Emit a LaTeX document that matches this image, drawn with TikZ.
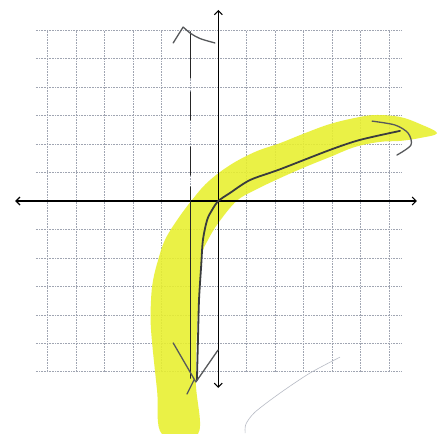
\documentclass[tikz,border=0pt]{standalone}
\usepackage{tikz}
\usetikzlibrary{arrows.meta}
\definecolor{marker}{RGB}{232,240,45}
\definecolor{pencil}{RGB}{58,60,62}
\definecolor{paper}{RGB}{160,165,178}

\begin{document}
\begin{tikzpicture}[
  x=26.07pt, y=24.43pt,
  gridline/.style={paper, line width=0.6pt, densely dotted},
  axis/.style={black, line width=1.1pt, {Straight Barb[length=4pt,width=8pt]}-{Straight Barb[length=4pt,width=8pt]}},
  asym/.style={black!85, line width=1.4pt, line cap=round},
  stroke/.style={pencil, line width=1.8pt, line cap=round, line join=round},
  tipstroke/.style={pencil!85, line width=1.3pt, line cap=round, line join=round},
  highlight/.style={fill=marker, fill opacity=0.88, draw=none},
  faint/.style={paper!75, line width=0.6pt}
]
\fill[white] (-8.374,-9.537) rectangle (8.427,8.228);
\useasboundingbox (-8.374,-9.537) rectangle (8.427,8.228);
\draw[gridline] (-7,-7) grid (7,7);
\fill[highlight] plot[smooth cycle, tension=0.6] coordinates {
  (-2.16,-9.54) (-2.35,-7.74) (-2.58,-5.28) (-2.58,-4.05) (-2.50,-3.23)
  (-2.31,-2.42) (-2.05,-1.60) (-1.58,-0.78) (-1.01,0.04) (-0.40,0.78)
  (0.45,1.47) (1.41,2.01) (2.37,2.37) (3.33,2.78) (4.28,3.15) (5.24,3.40)
  (6.01,3.52) (6.97,3.44) (7.74,3.15) (8.39,2.78)
  (7.74,2.58) (6.97,2.46) (6.20,2.42) (5.24,2.21) (4.28,1.80) (3.33,1.39)
  (2.37,0.94) (1.41,0.45) (0.70,0.00) (0.00,-0.90) (-0.40,-1.60)
  (-0.63,-2.21) (-0.70,-3.44) (-0.82,-5.28) (-0.86,-7.45) (-0.78,-9.54)};
\draw[axis] (-7.79,0) -- (7.62,0);
\draw[axis] (0,-7.65) -- (0,7.82);
\draw[asym, dash pattern=on 46pt off 14pt on 28pt off 27pt on 28pt off 12pt on 200pt off 1pt]
  (-1.07,6.92) -- (-1.07,-7.25);
\draw[tipstroke] (-1.73,6.47) -- (-1.35,7.12) -- (-1.09,6.88)
  .. controls (-0.75,6.65) .. (-0.13,6.47);
\draw[stroke] plot[smooth] coordinates {
  (-0.82,-7.33) (-0.78,-5.69) (-0.74,-4.05) (-0.66,-2.70) (-0.59,-1.60)
  (-0.43,-0.78) (-0.24,-0.37) (0,0) (0.45,0.33) (1.22,0.86) (2.37,1.30)
  (4.28,2.09) (5.43,2.50) (6.97,2.87)};
\draw[tipstroke] plot[smooth] coordinates {
  (5.90,3.27) (6.78,3.11) (7.28,2.78) (7.39,2.29) (6.85,1.88)};
\draw[tipstroke] (-1.73,-5.81) -- (-0.86,-7.41) -- (-0.01,-6.10);
\draw[tipstroke] (-1.20,-7.90) -- (-0.92,-7.30);
\draw[faint] plot[smooth] coordinates {
  (1.03,-9.50) (1.06,-9.13) (1.41,-8.64) (2.37,-7.86) (3.52,-7.04) (4.67,-6.39)};
\end{tikzpicture}
\end{document}
